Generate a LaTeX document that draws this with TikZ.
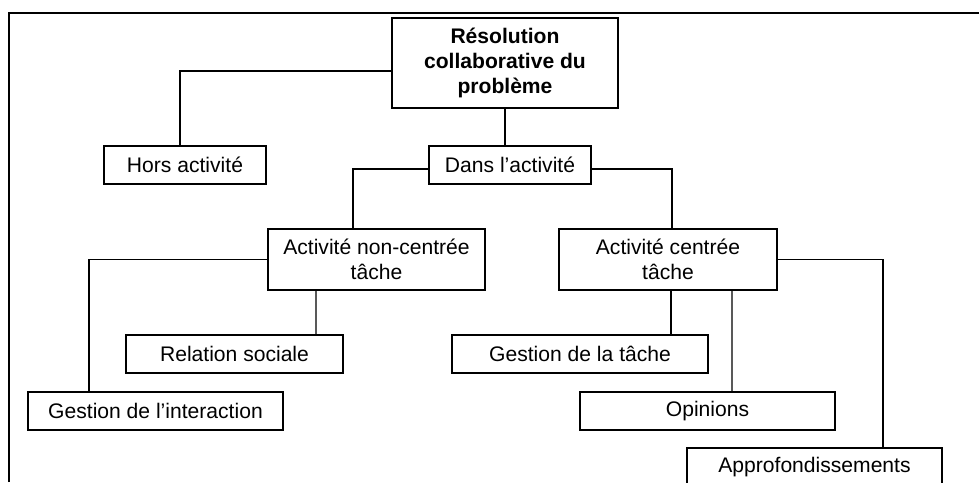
\documentclass[tikz,border=0pt]{standalone}
\usepackage{fontspec}
\setmainfont{Liberation Sans}
\usepackage{tikz}
\usetikzlibrary{positioning,calc}

\begin{document}
\begin{tikzpicture}[x=0.025cm,y=-0.025cm,
  box/.style={draw,line width=0.9pt,inner sep=0pt,align=center,
    minimum height=0.95cm,font=\fontsize{15}{17.5}\selectfont},
  link/.style={line width=0.9pt}]
  \useasboundingbox (0,0) rectangle (979,482);
  \draw[line width=1.6pt] (9,482) -- (9,13) -- (979,13);

  \node[box,minimum width=5.65cm,minimum height=2.25cm,
    font=\fontsize{15}{17.5}\selectfont\bfseries] (root) at (505,63)
    {Résolution\\collaborative du\\problème};
  \node[box,minimum width=4.05cm] (hors) at (185,165) {Hors activité};
  \node[box,minimum width=4.05cm] (dans) at (510,165) {Dans l’activité};
  \node[box,minimum width=5.425cm,minimum height=1.525cm] (anc) at (376.5,259.5)
    {Activité non-centrée\\tâche};
  \node[box,minimum width=5.45cm,minimum height=1.525cm] (act) at (668,259.5)
    {Activité centrée\\tâche};
  \node[box,minimum width=6.375cm] (gi) at (155.5,411) {Gestion de l’interaction};
  \node[box,minimum width=5.425cm] (rs) at (234.5,354) {Relation sociale};
  \node[box,minimum width=6.4cm] (gt) at (580,354) {Gestion de la tâche};
  \node[box,minimum width=6.375cm] (op) at (707.5,411) {Opinions};
  \node[box,minimum width=6.375cm] (ap) at (814.5,467) {Approfondissements};

  \draw[link] ($(root.west)+(0,8)$) -| ($(hors.north)+(-5,0)$);
  \draw[link] (root.south) -- (root.south |- dans.north);
  \draw[link] ($(dans.west)+(0,4)$) -| ($(anc.north)+(-23.5,0)$);
  \draw[link] ($(dans.east)+(0,4)$) -| ($(act.north)+(4,0)$);
  \draw[link] (anc.west) -| ($(gi.north)+(-66.5,0)$);
  \draw[link] ($(anc.south)+(-60.5,0)$) -- ($(rs.north)+(81.5,0)$);
  \draw[link] ($(act.south)+(3,0)$) -- ($(gt.north)+(91,0)$);
  \draw[link] ($(act.south)+(64,0)$) -- ($(op.north)+(24.5,0)$);
  \draw[link] (act.east) -| ($(ap.north)+(68.5,0)$);
\end{tikzpicture}
\end{document}
